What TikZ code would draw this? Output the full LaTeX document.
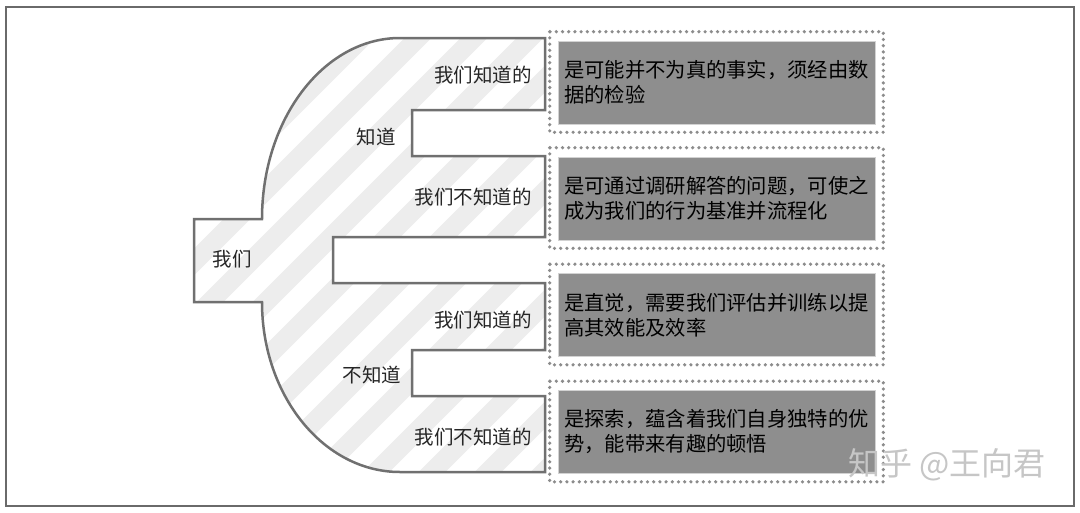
\documentclass[tikz,border=0pt]{standalone}
\usepackage{fontspec}
\usetikzlibrary{calc}
\newfontfamily\cjk{Noto Sans CJK SC}
\definecolor{shapeline}{HTML}{707070}
\definecolor{boxgray}{HTML}{8E8E8E}
\definecolor{dotgray}{HTML}{8C8C8C}
\definecolor{stripegray}{HTML}{EDEDED}
\definecolor{framegray}{HTML}{6A6A6A}
\begin{document}
\begin{tikzpicture}[x=1pt,y=-1pt,
  lab/.style={font=\cjk\fontsize{19.5}{22}\selectfont, text=black!85, inner sep=0pt},
  graybox/.style={fill=boxgray, draw=gray!35, line width=0.6pt, minimum width=317pt, minimum height=83pt, inner sep=0pt, align=left, font=\cjk\fontsize{20.3}{25}\selectfont, text=black},
  dotbox/.style={draw=dotgray, line width=3.6pt, dash pattern=on 0pt off 6.2pt, line cap=round},
  stripe/.style={draw=stripegray, line width=19pt},
  outline/.style={draw=shapeline, line width=2.5pt, line join=miter},
  framebox/.style={draw=framegray, line width=2pt},
  wm/.style={font=\cjk\fontsize{32}{34}\selectfont, text=gray!45, inner sep=0pt}]
\useasboundingbox (0,0) rectangle (1080,512);
\fill[white] (0,0) rectangle (1080,512);
\draw[framebox] (6,7) rectangle (1074,506);

% hatched body
\begin{scope}
\clip (400,38) -- (545,38) -- (545,110) -- (412,110) -- (412,156) -- (545,156) -- (545,237) -- (333,237) -- (333,283) -- (545,283) -- (545,350) -- (412,350) -- (412,396) -- (545,396) -- (545,472) -- (400,472) .. controls (323.8,472) and (262,395.9) .. (262,302) -- (194,302) -- (194,219) -- (262,219) .. controls (262,119) and (323.8,38) .. (400,38) -- cycle;
\foreach \k in {-100,-44,...,900} \draw[stripe] (\k-300,520) -- (\k+220,0);
\end{scope}
\draw[outline] (400,38) -- (545,38) -- (545,110) -- (412,110) -- (412,156) -- (545,156) -- (545,237) -- (333,237) -- (333,283) -- (545,283) -- (545,350) -- (412,350) -- (412,396) -- (545,396) -- (545,472) -- (400,472) .. controls (323.8,472) and (262,395.9) .. (262,302) -- (194,302) -- (194,219) -- (262,219) .. controls (262,119) and (323.8,38) .. (400,38) -- cycle;

% labels in the body
\node[lab, anchor=east] (kk) at (532,75) {我们知道的};
\node[lab] (k) at (376,137) {知道};
\node[lab, anchor=east] (ku) at (532,197) {我们不知道的};
\node[lab] (we) at (232,259) {我们};
\node[lab, anchor=east] (uk) at (532,320) {我们知道的};
\node[lab] (u) at (372,375) {不知道};
\node[lab, anchor=east] (uu) at (532,437) {我们不知道的};

% gray boxes
\node[graybox] (g1) at (716.5,82.5) {是可能并不为真的事实，须经由数\\据的检验};
\node[graybox] (g2) at (716.5,198.5) {是可通过调研解答的问题，可使之\\成为我们的行为基准并流程化};
\node[graybox] (g3) at (716.5,315) {是直觉，需要我们评估并训练以提\\高其效能及效率};
\node[graybox] (g4) at (716.5,432) {是探索，蕴含着我们自身独特的优\\势，能带来有趣的顿悟};
\foreach \g in {g1,g2,g3,g4}
  \draw[dotbox] ($(\g.north west)+(-8,-9)$) rectangle ($(\g.south east)+(8,8)$);

% watermark
\node[wm, anchor=west] (wmark) at (848,465) {知乎 @王向君};
\end{tikzpicture}
\end{document}
